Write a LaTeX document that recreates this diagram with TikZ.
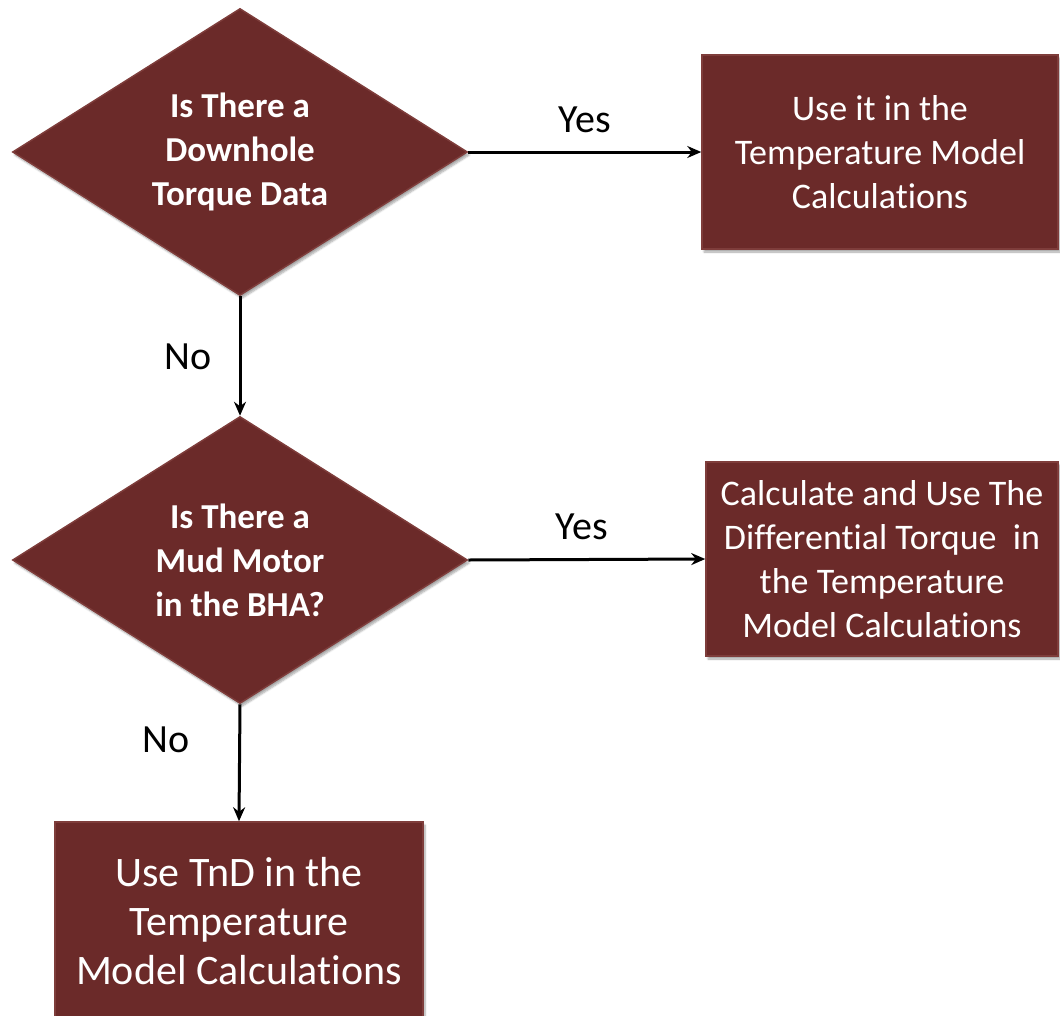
\documentclass[tikz,border=0pt]{standalone}
\usepackage{fontspec}
\setmainfont[Ligatures={NoCommon}]{Carlito}
\usetikzlibrary{shapes.geometric,arrows.meta,shadows.blur}
\definecolor{boxred}{HTML}{6B2A29}
\definecolor{boxedge}{HTML}{7E3D3B}
\tikzset{
  shape base/.style={fill=boxred, draw=boxedge, line width=1.5pt,
    blur shadow={shadow xshift=2pt, shadow yshift=-3pt, shadow blur steps=6, shadow opacity=35},
    text=white, align=center, inner sep=0pt},
  decision/.style={shape base, diamond, minimum width=455pt, minimum height=287pt},
  decision text/.style={text=white, align=center, inner sep=0pt,
    font=\fontsize{35}{44}\selectfont\bfseries},
  action/.style={shape base, rectangle, font=\fontsize{36}{44}\selectfont},
  flow/.style={-{Stealth[length=14pt,width=12pt]}, line width=3pt, black},
  tag/.style={font=\fontsize{40}{44}\selectfont, text=black}
}
\begin{document}
\begin{tikzpicture}[x=1pt,y=-1pt]
\useasboundingbox (0,0) rectangle (1060,1015);
\clip (0,0) rectangle (1060,1015);

% decisions (text set as a centred label so it does not enlarge the diamond)
\node[decision, label={[decision text]center:Is There a\\Downhole\\Torque Data}] (q1) at (240,152) {};
\node[decision, label={[decision text]center:Is There a\\Mud Motor\\in the BHA?}] (q2) at (240,560) {};

% actions
\node[action, minimum width=356pt, minimum height=194pt] (a1) at (880,152)
  {Use it in the\\Temperature Model\\Calculations};
\node[action, minimum width=352pt, minimum height=194pt] (a2) at (882,559)
  {Calculate and Use The\\Differential Torque\ \ in\\the Temperature\\Model Calculations};
\node[action, minimum width=368pt, minimum height=198pt, font=\fontsize{42}{49}\selectfont] (a3) at (239,921)
  {Use TnD in the\\Temperature\\Model Calculations};

% connectors
\draw[flow] (q1.east) -- (a1.west);
\draw[flow] (q1.south) -- (q2.north);
\draw[flow] (q2.east) -- (a2.west);
\draw[flow] (q2.south) -- (a3.north);

% branch labels
\node[tag] (y1) at (585,120) {Yes};
\node[tag] (y2) at (582,527) {Yes};
\node[tag] (n1) at (188,357) {No};
\node[tag] (n2) at (166,740) {No};
\end{tikzpicture}
\end{document}
